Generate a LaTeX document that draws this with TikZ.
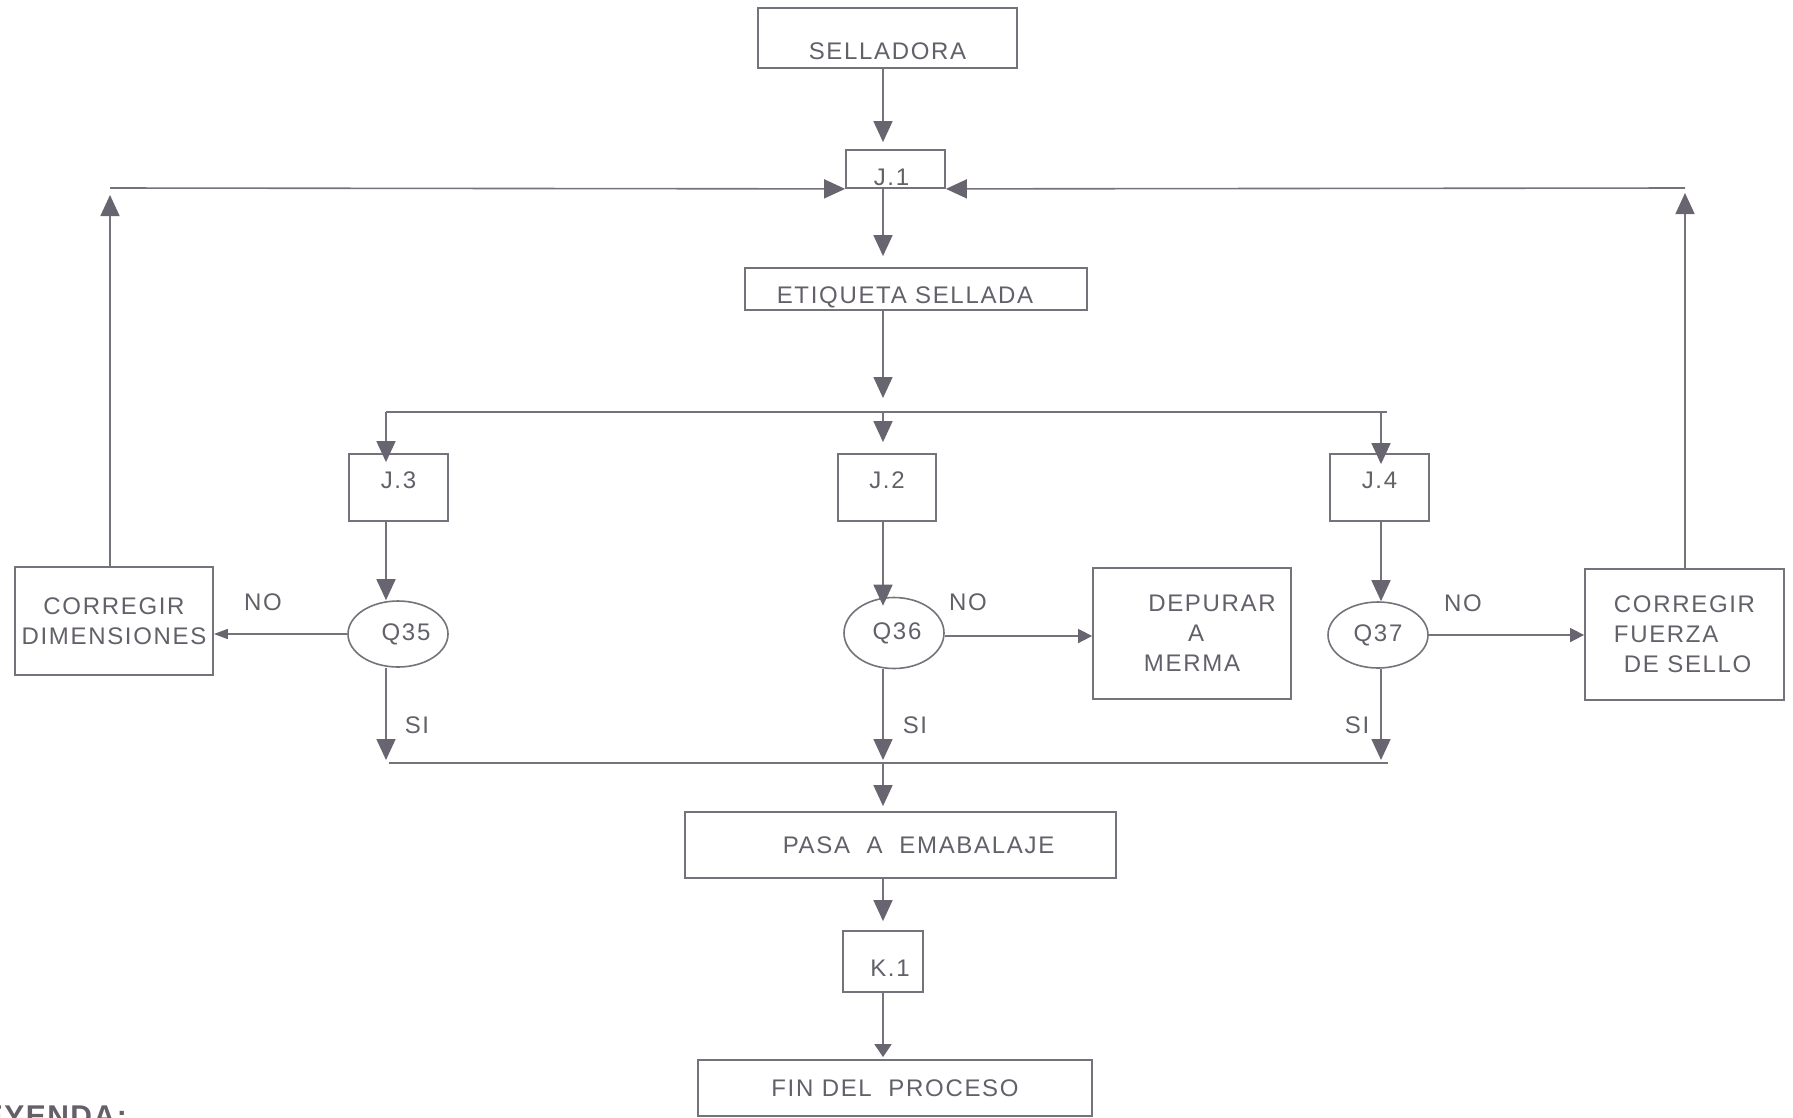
\documentclass[tikz,border=0pt]{standalone}
\usepackage{fontspec}
\setmainfont{Liberation Sans}
\newfontfamily\lblfont[LetterSpace=7]{Liberation Sans}
\newfontfamily\legfont[LetterSpace=5]{Liberation Sans}
\usetikzlibrary{arrows.meta,shapes.geometric}

\definecolor{ink}{RGB}{118,114,124}
\definecolor{tipc}{RGB}{104,100,112}
\definecolor{txt}{RGB}{100,96,106}

\begin{document}
\begin{tikzpicture}[x=1pt,y=-1pt,
  every node/.style={text=txt, font=\lblfont\fontsize{24}{30}\selectfont},
  box/.style={draw=ink, line width=1.8pt, rectangle, inner sep=0pt, align=center},
  oval/.style={draw=ink, line width=1.6pt, ellipse, inner sep=0pt, minimum width=100pt},
  capdrop/.style={text height=#1, text depth=0pt},
  wire/.style={draw=ink, line width=1.6pt},
  arr/.style={wire, -{Triangle[width=19pt,length=21pt,color=tipc]}},
  narr/.style={wire, -{Triangle[width=14pt,length=14pt,color=tipc]}},
  tarr/.style={wire, -{Triangle[width=10pt,length=14pt,color=tipc]}},
  karr/.style={wire, -{Triangle[width=17pt,length=13pt,color=tipc]}},
  lbl/.style={inner sep=0pt}
]
\fill[white] (0,0) rectangle (1793,1117);
\useasboundingbox (0,0) rectangle (1793,1117);

% main column
\node[box, minimum width=259pt, minimum height=60pt, capdrop=43pt] (sel) at (887.5,38) {SELLADORA};
\node[box, minimum width=99pt, minimum height=38pt, capdrop=33pt] (j1) at (895.5,169) {\hspace*{-8pt}J.1};
\node[box, minimum width=342pt, minimum height=42pt, capdrop=29pt] (etq) at (916,289) {\hspace*{-22pt}ETIQUETA SELLADA};

% inspection points
\node[box, minimum width=99pt, minimum height=67pt, text height=17.2pt, text depth=15pt] (j3) at (398.5,487.5) {J.3};
\node[box, minimum width=98pt, minimum height=67pt, text height=17.2pt, text depth=15pt] (j2) at (887,487.5) {J.2};
\node[box, minimum width=99pt, minimum height=67pt, text height=17.2pt, text depth=15pt] (j4) at (1379.5,487.5) {J.4};

% decisions
\node[oval, minimum height=66pt] (q35) at (398,634) {\hspace*{16pt}Q35};
\node[oval, minimum height=71pt] (q36) at (894,633) {\hspace*{6pt}Q36};
\node[oval, minimum height=66pt] (q37) at (1378,635) {Q37};

% outcomes
\node[box, minimum width=198pt, minimum height=108pt] (cd) at (114,621) {CORREGIR\\DIMENSIONES};
\node[box, minimum width=198pt, minimum height=131pt] (dm) at (1192,633.5) {\hspace*{40pt}DEPURAR\\\hspace*{8pt}A\\MERMA};
\node[box, minimum width=199pt, minimum height=131pt, align=left] (cf) at (1684.5,634.5) {CORREGIR\\FUERZA\\\hspace*{10pt}DE SELLO};

\node[box, minimum width=431pt, minimum height=66pt] (pasa) at (900.5,845) {\hspace*{36pt}PASA\ \ A\ \ EMABALAJE};
\node[box, minimum width=80pt, minimum height=61pt, capdrop=30pt] (k1) at (883,961.5) {\hspace*{14pt}K.1};
\node[box, minimum width=394pt, minimum height=56pt] (fin) at (895,1088) {FIN DEL\ \ PROCESO};

% branch labels
\node[lbl] (no35) at (263,602) {NO};
\node[lbl] (no36) at (968,602) {NO};
\node[lbl] (no37) at (1463,603) {NO};
\node[lbl] (si35) at (417,725) {SI};
\node[lbl] (si36) at (915,725) {SI};
\node[lbl] (si37) at (1357,725) {SI};

\node[anchor=base east, inner sep=0pt, font=\legfont\bfseries\fontsize{30}{36}\selectfont] (ley) at (127,1126) {LEYENDA:};

% junction points
\coordinate (cx) at (883,0);
\coordinate (bl) at (386,412);
\coordinate (br) at (1387,412);
\coordinate (bj4) at (1381,412);
\coordinate (botl) at (389,763);
\coordinate (botr) at (1388,763);
\coordinate (lt) at (110,188);
\coordinate (ltip) at (110,195);
\coordinate (rt) at (1685,188);
\coordinate (rtip) at (1685,193);

% flow down the main column
\draw[arr, shorten >=7pt] (sel.south -| cx) -- (j1.north -| cx);
\draw[arr, shorten >=11pt] (j1.south -| cx) -- (etq.north -| cx);
\draw[arr, shorten >=14pt] (etq.south -| cx) -- (cx |- bl);
\draw[wire] (bl) -- (br);

% split into the three inspection points
\draw[arr, shorten >=-9pt] (bl) -- (bl |- j3.north);
\draw[arr, shorten >=11pt] (cx |- bl) -- (j2.north -| cx);
\draw[arr, shorten >=-11pt] (bj4) -- (bj4 |- j4.north);

\draw[arr] (j3.south -| bl) -- (bl |- q35.north);
\draw[arr, shorten >=-9pt] (j2.south -| cx) -- (cx |- q36.north);
\draw[arr] (j4.south -| bj4) -- (bj4 |- q37.north);

% rejected branches
\draw[tarr] (q35.west) -- (q35.west -| cd.east);
\draw[narr] ([yshift=-3pt]q36.east) -- ([yshift=-3pt]q36.east -| dm.west);
\draw[narr] (q37.east) -- (q37.east -| cf.west);

% feedback loops to J.1
\draw[arr] (cd.north -| lt) -- (ltip);
\draw[arr] (lt) -- (j1.south west);
\draw[arr] (cf.north -| rt) -- (rtip);
\draw[arr] (rt) -- (j1.south east);

% accepted branches join again
\draw[arr, shorten >=3pt] (q35.south -| bl) -- (bl |- botl);
\draw[arr, shorten >=3pt] (q36.south -| cx) -- (cx |- botl);
\draw[arr, shorten >=3pt] (q37.south -| bj4) -- (bj4 |- botl);
\draw[wire] (botl) -- (botr);

\draw[arr, shorten >=5pt] (cx |- botl) -- (pasa.north -| cx);
\draw[arr, shorten >=9pt] (pasa.south -| cx) -- (k1.north -| cx);
\draw[karr, shorten >=2pt] (k1.south) -- (fin.north -| k1.south);
\end{tikzpicture}
\end{document}
